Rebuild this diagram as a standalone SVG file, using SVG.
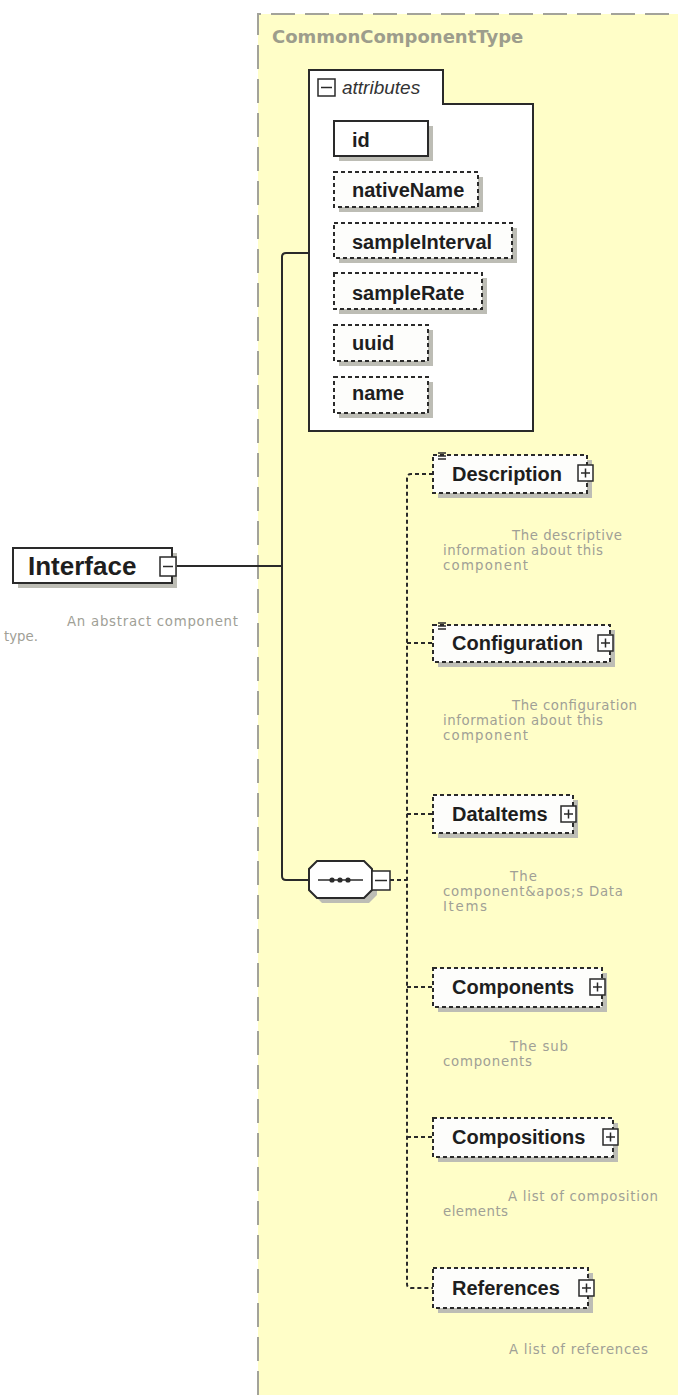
<svg xmlns="http://www.w3.org/2000/svg" width="678" height="1395" viewBox="0 0 678 1395">
  <style>
    .lbl { font-family: "Liberation Sans", Arial, sans-serif; font-weight: bold; font-size: 20px; fill: #1e1e1e; }
    .doc { font-family: "DejaVu Sans", Verdana, sans-serif; font-size: 13.3px; fill: #a0a096; }
    .shadow { fill: #bdbdb5; stroke: none; }
    .solidbox { fill: #ffffff; stroke: #2a2a2a; stroke-width: 2; }
    .optbox { fill: #fdfdfb; stroke: #2a2a2a; stroke-width: 2; stroke-dasharray: 4 3; }
    .btn { fill: #ffffff; stroke: #2a2a2a; stroke-width: 1.5; }
    .sign { stroke: #2a2a2a; stroke-width: 1.5; fill: none; }
    .wire { fill: none; stroke: #2a2a2a; stroke-width: 2; }
    .dotwire { fill: none; stroke: #2a2a2a; stroke-width: 2; stroke-dasharray: 4 3; }
  </style>

  <!-- complex type area -->
  <g id="type-area">
    <rect x="258" y="14" width="430" height="1400" fill="#fffec8"/>
    <path d="M258,1395 V14 H678" fill="none" stroke="#a3a39a" stroke-width="2" stroke-dasharray="24 10"/>
    <text x="272" y="43" font-family="'DejaVu Sans', Verdana, sans-serif" font-weight="bold" font-size="18" fill="#9d9d8c">CommonComponentType</text>
  </g>

  <!-- connectors -->
  <g id="connectors">
    <path class="wire" d="M177,566 H282"/>
    <path class="wire" d="M310,253 H286 Q282,253 282,257 V876 Q282,880 286,880 H309"/>
    <path class="dotwire" d="M390,880 H407"/>
    <path class="dotwire" d="M433,474 H411 Q407,474 407,478 V1284 Q407,1288 411,1288 H433"/>
    <path class="dotwire" d="M407,643 H433"/>
    <path class="dotwire" d="M407,814 H433"/>
    <path class="dotwire" d="M407,987 H433"/>
    <path class="dotwire" d="M407,1137 H433"/>
  </g>

  <!-- root element -->
  <g id="node-interface">
    <rect class="shadow" x="18" y="553" width="159" height="35"/>
    <rect class="solidbox" x="13" y="548" width="159" height="35"/>
    <text x="28" y="575" font-family="'Liberation Sans', Arial, sans-serif" font-weight="bold" font-size="26" fill="#1e1e1e">Interface</text>
    <rect class="btn" x="160" y="557" width="16" height="19"/>
    <path class="sign" d="M163,566.5 H173"/>
    <text class="doc" x="67" y="626" textLength="171" lengthAdjust="spacing">An abstract component</text>
    <text class="doc" x="4" y="641" textLength="34" lengthAdjust="spacing">type.</text>
  </g>

  <!-- attribute group -->
  <g id="node-attributes">
    <path d="M309,431 V70 H443 V104 H533 V431 Z" fill="#ffffff" stroke="#2a2a2a" stroke-width="2"/>
    <rect class="btn" x="318" y="79" width="17" height="17"/>
    <path class="sign" d="M321,87.5 H332"/>
    <text x="342" y="94" font-family="'Liberation Sans', Arial, sans-serif" font-style="italic" font-size="19" fill="#333333">attributes</text>
  </g>

  <g id="attr-id">
    <rect class="shadow" x="339" y="126" width="94" height="35"/>
    <rect class="solidbox" x="334" y="121" width="94" height="35"/>
    <text class="lbl" x="352" y="147">id</text>
  </g>
  <g id="attr-nativeName">
    <rect class="shadow" x="339" y="177" width="144" height="35"/>
    <rect class="optbox" x="334" y="172" width="144" height="35"/>
    <text class="lbl" x="352" y="197">nativeName</text>
  </g>
  <g id="attr-sampleInterval">
    <rect class="shadow" x="339" y="228" width="178" height="35"/>
    <rect class="optbox" x="334" y="223" width="178" height="35"/>
    <text class="lbl" x="352" y="249">sampleInterval</text>
  </g>
  <g id="attr-sampleRate">
    <rect class="shadow" x="339" y="278" width="148" height="36"/>
    <rect class="optbox" x="334" y="273" width="148" height="36"/>
    <text class="lbl" x="352" y="300">sampleRate</text>
  </g>
  <g id="attr-uuid">
    <rect class="shadow" x="339" y="330" width="94" height="36"/>
    <rect class="optbox" x="334" y="325" width="94" height="36"/>
    <text class="lbl" x="352" y="350">uuid</text>
  </g>
  <g id="attr-name">
    <rect class="shadow" x="339" y="382" width="94" height="36"/>
    <rect class="optbox" x="334" y="377" width="94" height="36"/>
    <text class="lbl" x="352" y="400">name</text>
  </g>

  <!-- sequence compositor -->
  <g id="node-sequence">
    <path class="shadow" d="M322,866 H369 L377,874 V895 L369,903 H322 L314,895 V874 Z"/>
    <path d="M317,861 H364 L372,869 V890 L364,898 H317 L309,890 V869 Z" fill="#ffffff" stroke="#2a2a2a" stroke-width="2"/>
    <path class="sign" d="M318,880 H363"/>
    <circle cx="332" cy="880" r="2.6" fill="#2a2a2a"/>
    <circle cx="340" cy="880" r="2.6" fill="#2a2a2a"/>
    <circle cx="348" cy="880" r="2.6" fill="#2a2a2a"/>
    <rect class="btn" x="372" y="871" width="18" height="19"/>
    <path class="sign" d="M375,880.5 H387"/>
  </g>

  <!-- child elements -->
  <g id="node-description">
    <rect class="shadow" x="438" y="460" width="154" height="38"/>
    <rect class="optbox" x="433" y="455" width="154" height="38"/>
    <path class="sign" d="M438,453 H446 M438,456 H446 M438,459 H446" stroke-width="1"/>
    <text class="lbl" x="452" y="481">Description</text>
    <rect class="btn" x="578" y="465" width="15" height="16"/>
    <path class="sign" d="M581,473 H590 M585.5,468.5 V477.5"/>
    <text class="doc" x="512" y="540" textLength="110" lengthAdjust="spacing">The descriptive</text>
    <text class="doc" x="443" y="555" textLength="160" lengthAdjust="spacing">information about this</text>
    <text class="doc" x="443" y="570" textLength="85" lengthAdjust="spacing">component</text>
  </g>

  <g id="node-configuration">
    <rect class="shadow" x="438" y="630" width="177" height="37"/>
    <rect class="optbox" x="433" y="625" width="177" height="37"/>
    <path class="sign" d="M438,623 H446 M438,626 H446 M438,629 H446" stroke-width="1"/>
    <text class="lbl" x="452" y="650">Configuration</text>
    <rect class="btn" x="598" y="635" width="15" height="16"/>
    <path class="sign" d="M601,643 H610 M605.5,638.5 V647.5"/>
    <text class="doc" x="512" y="710" textLength="125" lengthAdjust="spacing">The configuration</text>
    <text class="doc" x="443" y="725" textLength="160" lengthAdjust="spacing">information about this</text>
    <text class="doc" x="443" y="740" textLength="85" lengthAdjust="spacing">component</text>
  </g>

  <g id="node-dataitems">
    <rect class="shadow" x="438" y="800" width="140" height="38"/>
    <rect class="optbox" x="433" y="795" width="140" height="38"/>
    <text class="lbl" x="452" y="821">DataItems</text>
    <rect class="btn" x="561" y="806" width="15" height="16"/>
    <path class="sign" d="M564,814 H573 M568.5,809.5 V818.5"/>
    <text class="doc" x="510" y="881" textLength="27" lengthAdjust="spacing">The</text>
    <text class="doc" x="443" y="896" textLength="180" lengthAdjust="spacing">component&amp;apos;s Data</text>
    <text class="doc" x="443" y="911" textLength="44" lengthAdjust="spacing">Items</text>
  </g>

  <g id="node-components">
    <rect class="shadow" x="438" y="973" width="169" height="39"/>
    <rect class="optbox" x="433" y="968" width="169" height="39"/>
    <text class="lbl" x="452" y="994">Components</text>
    <rect class="btn" x="590" y="979" width="15" height="16"/>
    <path class="sign" d="M593,987 H602 M597.5,982.5 V991.5"/>
    <text class="doc" x="510" y="1051" textLength="58" lengthAdjust="spacing">The sub</text>
    <text class="doc" x="443" y="1066" textLength="89" lengthAdjust="spacing">components</text>
  </g>

  <g id="node-compositions">
    <rect class="shadow" x="438" y="1123" width="180" height="39"/>
    <rect class="optbox" x="433" y="1118" width="180" height="39"/>
    <text class="lbl" x="452" y="1144">Compositions</text>
    <rect class="btn" x="603" y="1129" width="15" height="16"/>
    <path class="sign" d="M606,1137 H615 M610.5,1132.5 V1141.5"/>
    <text class="doc" x="508" y="1201" textLength="150" lengthAdjust="spacing">A list of composition</text>
    <text class="doc" x="443" y="1216" textLength="65" lengthAdjust="spacing">elements</text>
  </g>

  <g id="node-references">
    <rect class="shadow" x="438" y="1273" width="155" height="40"/>
    <rect class="optbox" x="433" y="1268" width="155" height="40"/>
    <text class="lbl" x="452" y="1295">References</text>
    <rect class="btn" x="579" y="1280" width="15" height="16"/>
    <path class="sign" d="M582,1288 H591 M586.5,1283.5 V1292.5"/>
    <text class="doc" x="509" y="1354" textLength="139" lengthAdjust="spacing">A list of references</text>
  </g>
</svg>
